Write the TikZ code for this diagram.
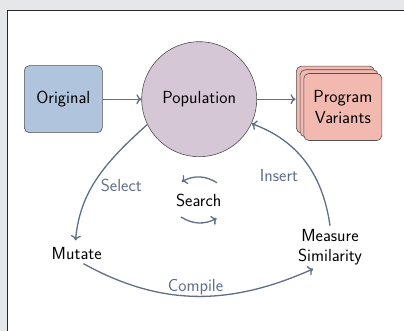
\documentclass[tikz,border=0pt]{standalone}
\usetikzlibrary{arrows.meta,shadows}

\definecolor{pagebg}{RGB}{230,231,233}
\definecolor{framec}{RGB}{40,40,40}
\definecolor{edgec}{RGB}{96,110,134}
\definecolor{origfill}{RGB}{176,196,222}
\definecolor{popfill}{RGB}{214,199,214}
\definecolor{varfill}{RGB}{242,185,176}
\definecolor{outlinec}{RGB}{80,80,80}

\tikzset{
  stagebox/.style={draw=outlinec, line width=0.6pt, rounded corners=5pt,
    minimum width=78pt, minimum height=67pt, align=center},
  flow/.style={draw=edgec, line width=1.3pt,
    -{Computer Modern Rightarrow[length=5pt,width=10pt]}},
  steplabel/.style={text=edgec},
  stagetext/.style={align=center, inner sep=3.3pt}
}

\begin{document}
\begin{tikzpicture}[x=1pt, y=1pt, font=\sffamily\fontsize{17.5}{20.5}\selectfont]
  % page and panel
  \useasboundingbox (0,0) rectangle (404,331);
  \clip (0,0) rectangle (404,331);
  \fill[pagebg] (0,0) rectangle (404,331);
  \draw[framec, line width=1.2pt, fill=white] (7.5,320.5) rectangle (430,-20);

  % main stages
  \node[stagebox, fill=origfill] (orig) at (63.3,231.8) {Original};
  \node[circle, draw=outlinec, line width=0.6pt, fill=popfill,
        minimum size=115pt, inner sep=0pt] (pop) at (199.2,231.8) {Population};
  \node[stagebox, fill=varfill,
        double copy shadow={shadow xshift=-3.7pt, shadow yshift=3.7pt,
          fill=varfill, draw=outlinec, line width=0.6pt}]
        (var) at (342.8,224) {Program\\Variants};

  % loop stages
  \node[stagetext] (mut) at (76.7,77) {Mutate};
  \node[stagetext] (meas) at (330,83.7) {Measure\\Similarity};
  \node[stagetext] (search) at (198.7,131) {Search};

  % pipeline arrows
  \draw[flow] (orig) -- (pop);
  \draw[flow, shorten >=8pt] (pop.east) -- (pop.east -| var.west);

  % evolutionary loop
  \draw[flow, shorten >=4pt] (pop.206) to[out=222, in=85] ([xshift=-1.5pt]mut.north);
  \draw[flow] (mut.-55) to[out=-29, in=204] (meas.232);
  \draw[flow] (meas.north) to[out=98, in=-20] (pop.-25.5);

  % step labels
  \node[steplabel] (lsel) at (121.3,146) {Select};
  \node[steplabel] (lins) at (279,155.3) {Insert};
  \node[steplabel] (lcomp) at (195.5,44.3) {Compile};

  % search cycle arrows
  \coordinate (sa) at (217,148.3);
  \coordinate (sb) at (181.7,149.3);
  \coordinate (sc) at (181,114);
  \coordinate (sd) at (216.7,112.7);
  \draw[flow] (sa) to[bend right=30] (sb);
  \draw[flow] (sc) to[bend right=30] (sd);
\end{tikzpicture}
\end{document}
